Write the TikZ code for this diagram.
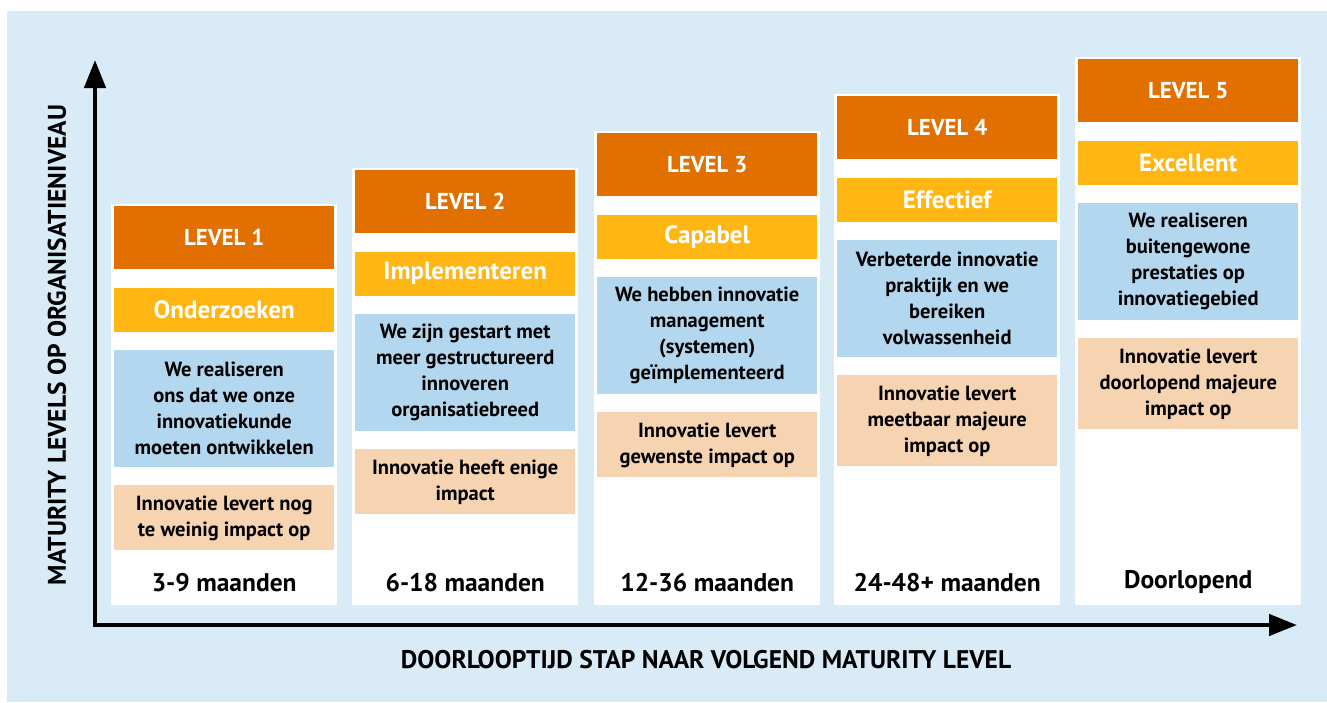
\documentclass[tikz,border=0pt]{standalone}
\usepackage{fontspec}
\setmainfont{PT Sans}
\usetikzlibrary{arrows.meta,positioning}

\definecolor{achtergrond}{HTML}{D9EBF7}
\definecolor{oranje}{HTML}{E17000}
\definecolor{geel}{HTML}{FFB612}
\definecolor{blauw}{HTML}{B2D7EE}
\definecolor{perzik}{HTML}{F6D4B2}

\tikzset{
  kolom/.style={fill=white, anchor=north west, minimum width=226pt, inner sep=0pt},
  levelbox/.style={fill=oranje, text=white, minimum width=220pt, minimum height=63pt,
    inner sep=0pt, font=\bfseries\fontsize{23}{26}\selectfont},
  fasebox/.style={fill=geel, text=white, minimum width=220pt, minimum height=44pt,
    inner sep=0pt, font=\bfseries\fontsize{25}{26}\selectfont},
  descbox/.style={fill=blauw, minimum width=220pt, minimum height=117pt, align=center,
    inner sep=0pt, font=\bfseries\fontsize{20.5}{26}\selectfont},
  impactbox/.style={fill=perzik, minimum width=220pt, minimum height=65pt, align=center,
    inner sep=0pt, font=\bfseries\fontsize{20.5}{26}\selectfont},
  duur/.style={inner sep=0pt, font=\bfseries\fontsize{25.5}{26}\selectfont},
  aslabel/.style={inner sep=0pt, font=\bfseries\fontsize{25.5}{26}\selectfont},
  as/.style={line width=4.5pt, {Triangle[length=28pt,width=21pt]}-{Triangle[length=28pt,width=21pt]}}
}

\begin{document}
\begin{tikzpicture}[x=1pt,y=-1pt, node distance=18pt]
\useasboundingbox (0,0) rectangle (1327,702);
\fill[achtergrond] (7,11) rectangle (1327,702);

% level 1
\node[kolom, minimum height=401pt] (kol1) at (111,204) {};
\node[levelbox, below=2pt of kol1.north] (lvl1) {LEVEL 1};
\node[fasebox, below=of lvl1] (fase1) {Onderzoeken};
\node[descbox, below=of fase1] (desc1) {We realiseren\\ons dat we onze\\innovatiekunde\\moeten ontwikkelen};
\node[impactbox, below=of desc1] (imp1) {Innovatie levert nog\\te weinig impact op};
\node[duur] (duur1) at ([yshift=23pt]kol1.south) {3-9 maanden};

% level 2
\node[kolom, minimum height=437pt] (kol2) at (352,168) {};
\node[levelbox, below=2pt of kol2.north] (lvl2) {LEVEL 2};
\node[fasebox, below=of lvl2] (fase2) {Implementeren};
\node[descbox, below=of fase2] (desc2) {We zijn gestart met\\meer gestructureerd\\innoveren\\organisatiebreed};
\node[impactbox, below=of desc2] (imp2) {Innovatie heeft enige\\impact};
\node[duur] (duur2) at ([yshift=23pt]kol2.south) {6-18 maanden};

% level 3
\node[kolom, minimum height=474pt] (kol3) at (594,131) {};
\node[levelbox, below=2pt of kol3.north] (lvl3) {LEVEL 3};
\node[fasebox, below=of lvl3] (fase3) {Capabel};
\node[descbox, below=of fase3] (desc3) {We hebben innovatie\\management\\(systemen)\\geïmplementeerd};
\node[impactbox, below=of desc3] (imp3) {Innovatie levert\\gewenste impact op};
\node[duur] (duur3) at ([yshift=23pt]kol3.south) {12-36 maanden};

% level 4
\node[kolom, minimum height=511pt] (kol4) at (834,94) {};
\node[levelbox, below=2pt of kol4.north] (lvl4) {LEVEL 4};
\node[fasebox, below=of lvl4] (fase4) {Effectief};
\node[descbox, below=of fase4] (desc4) {Verbeterde innovatie\\praktijk en we\\bereiken\\volwassenheid};
\node[impactbox, minimum height=91pt, below=of desc4] (imp4) {Innovatie levert\\meetbaar majeure\\impact op};
\node[duur] (duur4) at ([yshift=23pt]kol4.south) {24-48+ maanden};

% level 5
\node[kolom, minimum height=548pt] (kol5) at (1075,57) {};
\node[levelbox, below=2pt of kol5.north] (lvl5) {LEVEL 5};
\node[fasebox, below=of lvl5] (fase5) {Excellent};
\node[descbox, below=of fase5] (desc5) {We realiseren\\buitengewone\\prestaties op\\innovatiegebied};
\node[impactbox, minimum height=91pt, below=of desc5] (imp5) {Innovatie levert\\doorlopend majeure\\impact op};
\node[duur] (duur5) at ([yshift=23pt]kol5.south) {Doorlopend};

% assen
\coordinate (ytop) at (95,60);
\coordinate (oorsprong) at (95,625);
\coordinate (xeind) at (1297,625);
\draw[as] (ytop) -- (oorsprong) -- (xeind);

\node[aslabel] (xlabel) at (706,660) {DOORLOOPTIJD STAP NAAR VOLGEND MATURITY LEVEL};
\node[aslabel, rotate=90] (ylabel) at (57,345) {MATURITY LEVELS OP ORGANISATIENIVEAU};
\end{tikzpicture}
\end{document}
